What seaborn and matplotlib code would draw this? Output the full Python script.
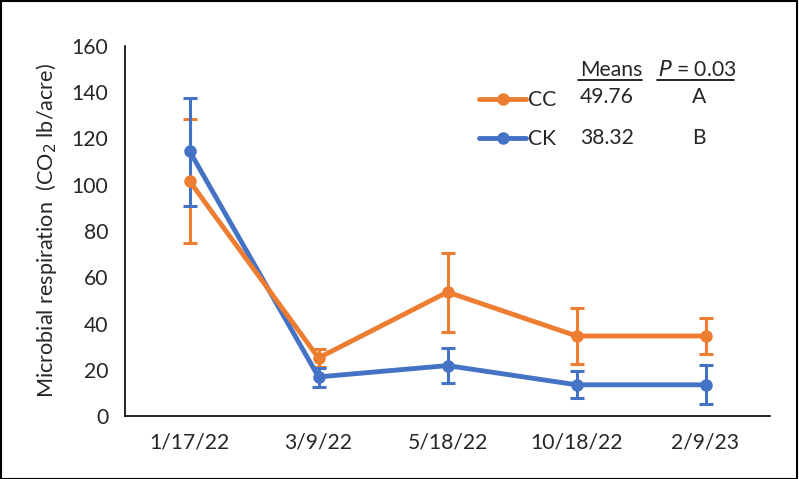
import matplotlib
matplotlib.use("Agg")
import matplotlib.pyplot as plt
import seaborn as sns
import pandas as pd
import numpy as np
from matplotlib.lines import Line2D
from matplotlib.patches import Rectangle

dates = ["1/17/22", "3/9/22", "5/18/22", "10/18/22", "2/9/23"]
cc_mean = [101.6, 25.1, 53.6, 34.6, 34.6]
cc_upper = [128.4, 29.0, 70.6, 46.7, 42.5]
cc_lower = [74.8, 21.2, 36.5, 22.5, 26.7]
ck_mean = [114.6, 16.9, 21.8, 13.5, 13.5]
ck_upper = [137.5, 20.8, 29.6, 19.5, 22.0]
ck_lower = [90.8, 12.5, 14.1, 7.8, 5.2]

treatments = ["CC", "CK"]
overall_means = ["49.76", "38.32"]
letters = ["A", "B"]
colors = {"CC": "#ED7D31", "CK": "#4472C4"}

sns.set_style("white")
plt.rcParams["font.family"] = ["Lato", "DejaVu Sans"]
FS = 15.2

df = pd.DataFrame({
    "pos": list(range(len(dates))) * 2,
    "value": cc_mean + ck_mean,
    "trt": ["CC"] * len(dates) + ["CK"] * len(dates),
})

fig = plt.figure(figsize=(7.99, 4.79), dpi=100)
ax = fig.add_axes([125 / 799, 1 - 416 / 479, 645 / 799, 370 / 479])

sns.lineplot(data=df, x="pos", y="value", hue="trt", palette=colors,
             hue_order=["CK", "CC"], marker="o", markersize=9, linewidth=3.5,
             markeredgewidth=0, ax=ax, legend=False)

# Error bars drawn behind the lines
for mean, up, lo, trt in [(cc_mean, cc_upper, cc_lower, "CC"),
                          (ck_mean, ck_upper, ck_lower, "CK")]:
    m = np.array(mean)
    yerr = np.vstack([m - np.array(lo), np.array(up) - m])
    ax.errorbar(np.arange(len(dates)), m, yerr=yerr, fmt="none",
                ecolor=colors[trt], elinewidth=2.2, capsize=5, capthick=2.2,
                zorder=1)

ax.set_xlim(-0.5, len(dates) - 0.5)
ax.set_ylim(0, 160)
ax.set_yticks(range(0, 161, 20))
ax.set_xticks(np.arange(-0.5, len(dates), 1.0))
ax.set_xticklabels([])
ax.set_xticks(np.arange(len(dates)), minor=True)
ax.set_xticklabels(dates, minor=True)
ax.tick_params(axis="x", which="major", direction="out", length=8, width=1.2, color="black")
ax.tick_params(axis="x", which="minor", length=0, pad=12, labelsize=FS)
ax.tick_params(axis="y", direction="out", length=6, width=1.2, color="black", labelsize=FS, pad=6)
ax.set_xlabel("")
ax.set_ylabel("Microbial respiration  (CO$_2$ lb/acre)", fontsize=15.6, labelpad=9)
for s in ["top", "right"]:
    ax.spines[s].set_visible(False)
for s in ["left", "bottom"]:
    ax.spines[s].set_color("black")
    ax.spines[s].set_linewidth(1.2)

# Legend with means table
handles = [Line2D([0], [0], color=colors[t], lw=3.5, marker="o", markersize=9,
                  markeredgewidth=0) for t in treatments]
leg = ax.legend(handles, treatments, loc="upper left",
                frameon=False, fontsize=FS, handlelength=2.2, handletextpad=0.1,
                labelspacing=0.9, borderaxespad=0)
leg.set_bbox_to_anchor((471 / 799, 1 - 82 / 479), transform=fig.transFigure)

fig.text(580 / 799, 1 - 70 / 479, "Means", fontsize=FS, va="center", ha="left")
fig.text(658 / 799, 1 - 70 / 479, "$\\it{P}$ = 0.03", fontsize=FS, va="center", ha="left")
fig.add_artist(Line2D([578 / 799, 642 / 799], [1 - 80 / 479] * 2, color="black", lw=1.2))
fig.add_artist(Line2D([657 / 799, 734 / 799], [1 - 80 / 479] * 2, color="black", lw=1.2))
for i, (mv, lt) in enumerate(zip(overall_means, letters)):
    y = 1 - (97 + 41 * i) / 479
    fig.text(580 / 799, y, mv, fontsize=FS, va="center", ha="left")
    fig.text(699 / 799, y, lt, fontsize=FS, va="center", ha="center")

fig.add_artist(Rectangle((0.001, 0.001), 0.997, 0.997, transform=fig.transFigure,
                         fill=False, edgecolor="black", lw=1.5))

fig.savefig("out.png", dpi=100)
